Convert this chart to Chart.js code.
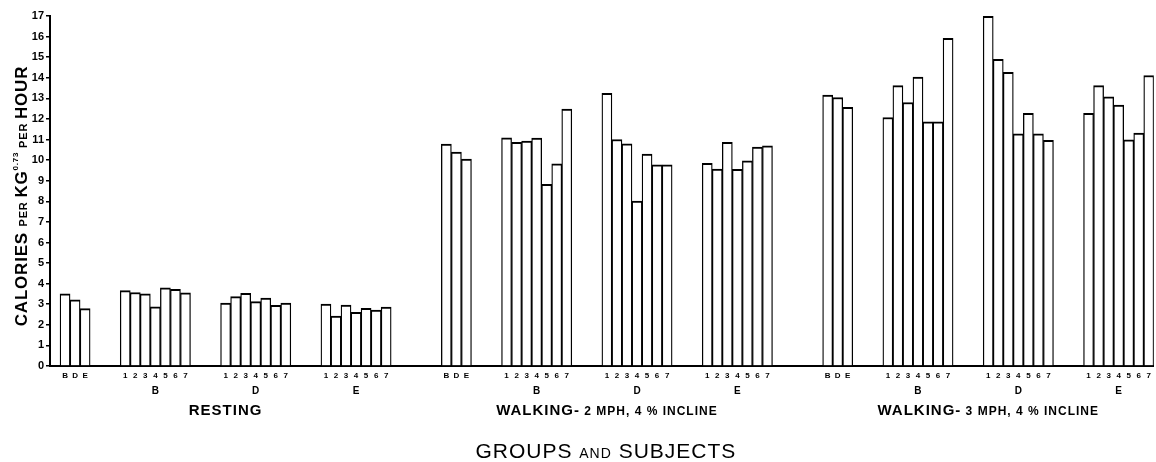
<!DOCTYPE html>
<html>
<head>
<meta charset="utf-8">
<title>Calories per kg0.73 per hour</title>
<script src="https://cdn.jsdelivr.net/npm/chart.js@4.4.0/dist/chart.umd.min.js"></script>
<style>
  html, body { margin: 0; padding: 0; background: #fff; }
  #wrap { width: 1156px; height: 462px; }
</style>
</head>
<body>
<div id="wrap"><canvas id="calChart" width="1156" height="462"></canvas></div>
<script>
// what the figure shows
const conditions = ['RESTING', 'WALKING- 2 MPH, 4 % INCLINE', 'WALKING- 3 MPH, 4 % INCLINE'];
const groups = ['B', 'D', 'E'];
const subjects = ['1', '2', '3', '4', '5', '6', '7'];
const yTicks = [0, 1, 2, 3, 4, 5, 6, 7, 8, 9, 10, 11, 12, 13, 14, 15, 16, 17];

// group means B, D, E
const restMeans = [3.51, 3.22, 2.79];
const walk2Means = [10.78, 10.39, 10.05];
const walk3Means = [13.16, 13.04, 12.57];

// subjects 1-7 in each group
const restB = [3.66, 3.57, 3.50, 2.87, 3.80, 3.72, 3.56];
const restD = [3.06, 3.37, 3.53, 3.13, 3.30, 2.95, 3.06];
const restE = [3.01, 2.43, 2.96, 2.61, 2.80, 2.72, 2.86];
const walk2B = [11.08, 10.86, 10.92, 11.07, 8.82, 9.82, 12.48];
const walk2D = [13.25, 11.00, 10.79, 8.01, 10.29, 9.77, 9.77];
const walk2E = [9.85, 9.56, 10.86, 9.55, 9.97, 10.63, 10.69];
const walk3B = [12.07, 13.62, 12.80, 14.03, 11.86, 11.86, 15.92];
const walk3D = [16.98, 14.90, 14.27, 11.28, 12.27, 11.28, 10.96];
const walk3E = [12.27, 13.62, 13.07, 12.67, 10.99, 11.31, 14.11];

const conditionData = [
    [restMeans, restB, restD, restE],
    [walk2Means, walk2B, walk2D, walk2E],
    [walk3Means, walk3B, walk3D, walk3E]
];

// lay the bars out on one category axis, empty slots make the gaps
const labels = [''];
const values = [null];
const groupMarks = [];
const conditionMarks = [];

function addGap(n) {
    for (let i = 0; i < n; i++) {
        labels.push('');
        values.push(null);
    }
}

conditionData.forEach((sets, c) => {
    if (c > 0) addGap(5);
    const from = labels.length;
    sets[0].forEach((v, i) => { labels.push(groups[i]); values.push(v); });
    for (let g = 0; g < groups.length; g++) {
        addGap(3);
        const start = labels.length;
        sets[g + 1].forEach((v, i) => { labels.push(subjects[i]); values.push(v); });
        groupMarks.push({ index: start + 3, text: groups[g] });
    }
    conditionMarks.push({ from: from, to: labels.length - 1, text: conditions[c] });
});

const FONT = '"Liberation Sans", Arial, sans-serif';

// draws pieces of text in different sizes on one baseline, centred on x
function drawRuns(ctx, runs, x, y) {
    let total = 0;
    runs.forEach(r => { ctx.font = r.font; total += ctx.measureText(r.text).width; });
    let cx = x - total / 2;
    runs.forEach(r => {
        ctx.font = r.font;
        ctx.fillText(r.text, cx, y + (r.dy || 0));
        cx += ctx.measureText(r.text).width;
    });
}

const labelPlugin = {
    id: 'figureLabels',
    afterDraw(chart) {
        const ctx = chart.ctx;
        const x = chart.scales.x;
        const area = chart.chartArea;
        ctx.save();
        ctx.fillStyle = '#000';
        ctx.textAlign = 'left';
        ctx.textBaseline = 'alphabetic';

        // B / D / E under each block of subjects
        ctx.letterSpacing = '0px';
        groupMarks.forEach(m => {
            drawRuns(ctx, [{ text: m.text, font: 'bold 10px ' + FONT }], x.getPixelForValue(m.index), 394);
        });

        // condition names
        ctx.letterSpacing = '1px';
        conditionMarks.forEach(m => {
            const cx = (x.getPixelForValue(m.from) + x.getPixelForValue(m.to)) / 2;
            const runs = m.text.split(/(WALKING-|RESTING)/).filter(s => s !== '').map(s => ({
                text: s,
                font: (s === 'WALKING-' || s === 'RESTING') ? 'bold 15px ' + FONT : 'bold 12px ' + FONT
            }));
            drawRuns(ctx, runs, cx, 415);
        });

        // x title
        drawRuns(ctx, [
            { text: 'GROUPS ', font: '21px ' + FONT },
            { text: 'AND', font: '14px ' + FONT },
            { text: ' SUBJECTS', font: '21px ' + FONT }
        ], (area.left + area.right) / 2 + 4, 458);

        // y title, rotated
        ctx.translate(27, 196);
        ctx.rotate(-Math.PI / 2);
        ctx.letterSpacing = '0.8px';
        drawRuns(ctx, [
            { text: 'CALORIES ', font: 'bold 17px ' + FONT },
            { text: 'PER ', font: 'bold 11px ' + FONT },
            { text: 'KG', font: 'bold 17px ' + FONT },
            { text: '0.73', font: 'bold 8px ' + FONT, dy: -9 },
            { text: ' PER ', font: 'bold 11px ' + FONT },
            { text: 'HOUR', font: 'bold 17px ' + FONT }
        ], 0, 0);
        ctx.restore();
    }
};

new Chart(document.getElementById('calChart').getContext('2d'), {
    type: 'bar',
    data: {
        labels: labels,
        datasets: [{
            data: values,
            backgroundColor: '#fff',
            borderColor: '#000',
            borderWidth: { top: 2, left: 1.3, right: 1.3, bottom: 0 },
            borderSkipped: 'start',
            barPercentage: 1,
            categoryPercentage: 1
        }]
    },
    options: {
        responsive: false,
        animation: false,
        layout: { padding: { top: 16, right: 0, bottom: 0, left: 0 } },
        plugins: {
            legend: { display: false },
            tooltip: { enabled: false }
        },
        scales: {
            x: {
                type: 'category',
                offset: true,
                grid: { display: true, drawOnChartArea: false, drawTicks: false },
                border: { display: true, color: '#000', width: 2 },
                ticks: {
                    autoSkip: false,
                    maxRotation: 0,
                    minRotation: 0,
                    padding: 5,
                    color: '#000',
                    font: { family: FONT, size: 8, weight: 'bold' },
                    callback: (value, index) => labels[index]
                },
                afterFit: scale => { scale.height = 96; }
            },
            y: {
                min: yTicks[0],
                max: yTicks[yTicks.length - 1],
                grid: { drawOnChartArea: false, drawTicks: true, tickLength: 4, color: '#000', lineWidth: 1.5 },
                border: { display: true, color: '#000', width: 2 },
                afterBuildTicks: scale => { scale.ticks = yTicks.map(v => ({ value: v })); },
                ticks: {
                    padding: 2,
                    color: '#000',
                    font: { family: FONT, size: 11, weight: 'bold' }
                },
                afterFit: scale => { scale.width = 50; }
            }
        }
    },
    plugins: [labelPlugin]
});
</script>
</body>
</html>
